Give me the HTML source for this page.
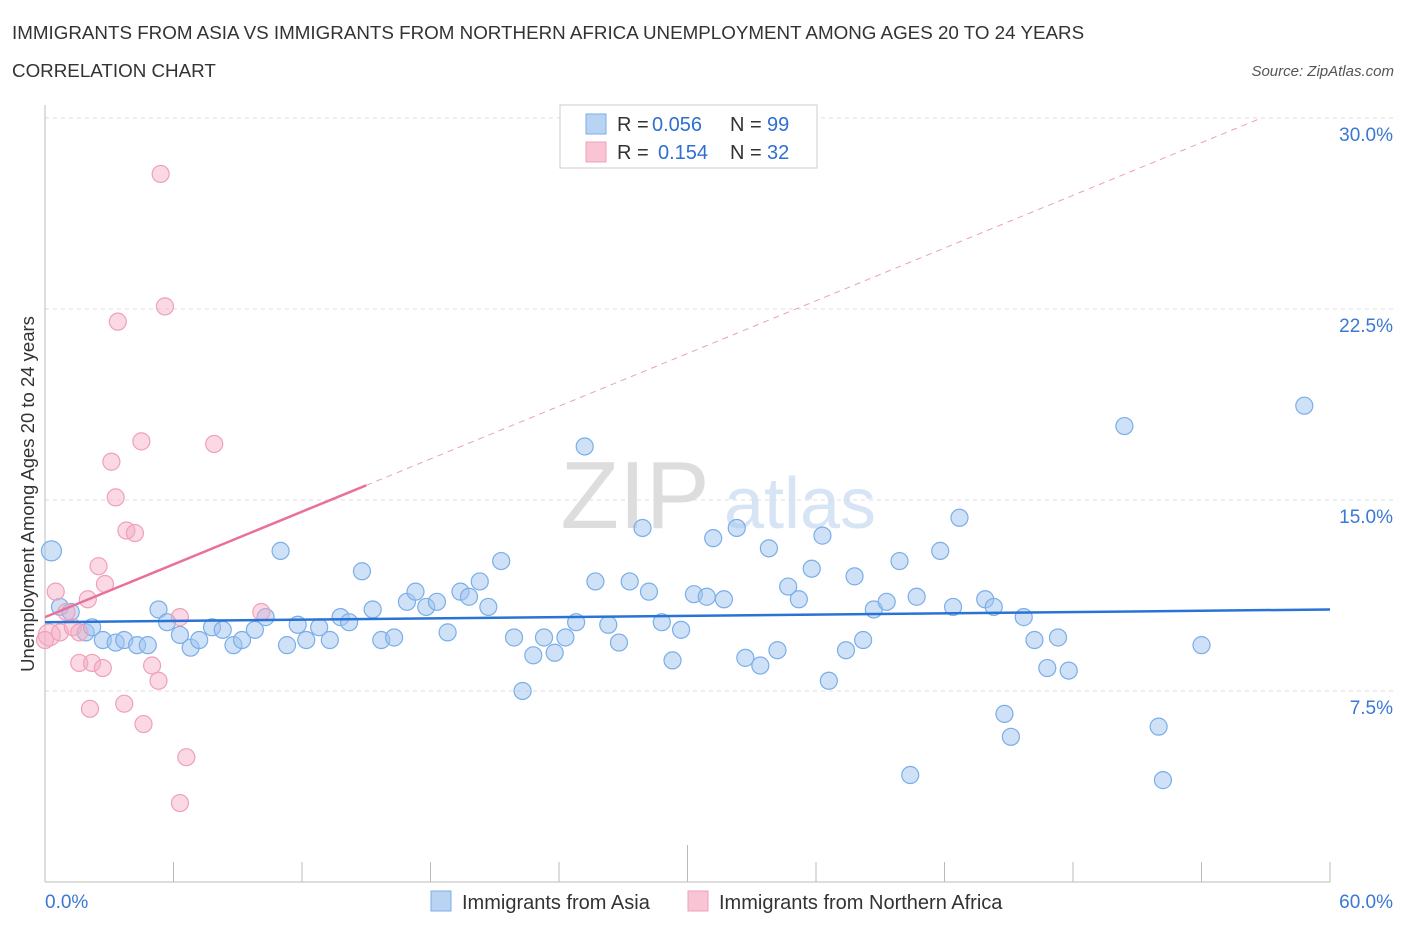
<!DOCTYPE html>
<html><head><meta charset="utf-8"><style>
body{margin:0;background:#fff;font-family:"Liberation Sans",sans-serif;}
svg text{font-family:"Liberation Sans",sans-serif;}
</style></head><body>
<svg id="chart" width="1406" height="930" xmlns="http://www.w3.org/2000/svg">
<text x="12" y="39" font-size="18.8" fill="#333">IMMIGRANTS FROM ASIA VS IMMIGRANTS FROM NORTHERN AFRICA UNEMPLOYMENT AMONG AGES 20 TO 24 YEARS</text>
<text x="12" y="77" font-size="18.8" fill="#333">CORRELATION CHART</text>
<text x="1394" y="76" font-size="15" fill="#555" text-anchor="end" font-style="italic">Source: ZipAtlas.com</text>
<text x="635" y="528" font-size="96" fill="#ddd" font-family="Liberation Serif" text-anchor="middle">ZIP</text>
<text x="800" y="528" font-size="72" fill="#d6e4f5" text-anchor="middle">atlas</text>
<g id="grid"></g>
<g id="axes"></g>
<g id="pts"></g>
<g id="lines"></g>
<text x="34" y="494" font-size="18.5" fill="#333" text-anchor="middle" transform="rotate(-90 34 494)">Unemployment Among Ages 20 to 24 years</text>
<text x="45" y="908" font-size="19" fill="#3a78d4">0.0%</text>
<text x="1393" y="908" font-size="19" fill="#3a78d4" text-anchor="end">60.0%</text>
<g>
<rect x="560" y="105" width="257" height="63" fill="#fff" stroke="#ccc"/>
<rect x="586" y="114" width="20" height="20" fill="#b9d3f3" stroke="#7aaee8"/>
<rect x="586" y="142" width="20" height="20" fill="#f9c5d5" stroke="#f0a0b8"/>
<text x="617" y="131" font-size="20" fill="#333">R =</text>
<text x="652" y="131" font-size="20" fill="#2f6fd0">0.056</text>
<text x="730" y="131" font-size="20" fill="#333">N =</text>
<text x="767" y="131" font-size="20" fill="#2f6fd0">99</text>
<text x="617" y="159" font-size="20" fill="#333">R =</text>
<text x="658" y="159" font-size="20" fill="#2f6fd0">0.154</text>
<text x="730" y="159" font-size="20" fill="#333">N =</text>
<text x="767" y="159" font-size="20" fill="#2f6fd0">32</text>
</g>
<g>
<rect x="431" y="891" width="20" height="20" fill="#b9d3f3" stroke="#7aaee8"/>
<text x="462" y="909" font-size="20" fill="#333">Immigrants from Asia</text>
<rect x="688" y="891" width="20" height="20" fill="#f9c5d5" stroke="#f0a0b8"/>
<text x="719" y="909" font-size="20" fill="#333">Immigrants from Northern Africa</text>
</g>
</svg>
<script>
const yTicks=[7.5,15.0,22.5,30.0];
const xTickVals=[0,6,12,18,24,30,36,42,48,54,60];
const asiaX=[0.3,0.7,1.2,1.9,2.2,2.7,3.3,3.7,4.3,4.8,5.3,5.7,6.3,6.8,7.2,7.8,8.3,8.8,9.2,9.8,10.3,11.0,11.3,11.8,12.2,12.8,13.3,13.8,14.2,14.8,15.3,15.7,16.3,16.9,17.3,17.8,18.3,18.8,19.4,19.8,20.3,20.7,21.3,21.9,22.3,22.8,23.3,23.8,24.3,24.8,25.2,25.7,26.3,26.8,27.3,27.9,28.2,28.8,29.3,29.7,30.3,30.9,31.2,31.7,32.3,32.7,33.4,33.8,34.2,34.7,35.2,35.8,36.3,36.6,37.4,37.8,38.2,38.7,39.3,39.9,40.4,40.7,41.8,42.4,42.7,43.9,44.3,44.8,45.1,45.7,46.2,46.8,47.3,47.8,50.4,52.0,52.2,54.0,58.8];
const asiaY=[13.0,10.8,10.6,9.8,10.0,9.5,9.4,9.5,9.3,9.3,10.7,10.2,9.7,9.2,9.5,10.0,9.9,9.3,9.5,9.9,10.4,13.0,9.3,10.1,9.5,10.0,9.5,10.4,10.2,12.2,10.7,9.5,9.6,11.0,11.4,10.8,11.0,9.8,11.4,11.2,11.8,10.8,12.6,9.6,7.5,8.9,9.6,9.0,9.6,10.2,17.1,11.8,10.1,9.4,11.8,13.9,11.4,10.2,8.7,9.9,11.3,11.2,13.5,11.1,13.9,8.8,8.5,13.1,9.1,11.6,11.1,12.3,13.6,7.9,9.1,12.0,9.5,10.7,11.0,12.6,4.2,11.2,13.0,10.8,14.3,11.1,10.8,6.6,5.7,10.4,9.5,8.4,9.6,8.3,17.9,6.1,4.0,9.3,18.7];
const nafX=[0.2,0.5,0.7,1.0,1.3,1.6,1.6,2.0,2.1,2.2,2.5,2.7,2.8,3.1,3.3,3.4,3.7,3.8,4.2,4.5,4.6,5.0,5.3,5.4,5.6,6.3,6.3,6.6,7.9,10.1,0.0];
const nafY=[9.7,11.4,9.8,10.6,10.0,9.8,8.6,11.1,6.8,8.6,12.4,8.4,11.7,16.5,15.1,22.0,7.0,13.8,13.7,17.3,6.2,8.5,7.9,27.8,22.6,10.4,3.1,4.9,17.2,10.6,9.5];
const asiaFit=[10.2,10.7];
const nafFit=[10.4,0.345];
const X=v=>45+v/60*1285;
const Y=v=>882-v*25.47;
const NS="http://www.w3.org/2000/svg";
function mk(tag,attrs,parent){const e=document.createElementNS(NS,tag);for(const k in attrs)e.setAttribute(k,attrs[k]);document.getElementById(parent).appendChild(e);return e;}
yTicks.forEach(t=>{
 const l=mk('line',{x1:45,x2:1393,y1:Y(t),y2:Y(t),stroke:'#ddd','stroke-dasharray':'4,4'},'grid');
 
 
 const tx=mk('text',{x:1393,y:Y(t)+23,'font-size':19,fill:'#3a78d4','text-anchor':'end'},'grid');
 tx.textContent=t.toFixed(1)+'%';
 
 
});
const ax=mk('line',{x1:45,x2:45,y1:105,y2:882,stroke:'#bbb'},'axes');


const bx=mk('line',{x1:45,x2:1330,y1:882,y2:882,stroke:'#bbb'},'axes');


xTickVals.forEach((t,i)=>{
 const l=mk('line',{x1:X(t),x2:X(t),y1:(i==5?845:862),y2:882,stroke:'#bbb'},'axes');
 
 
});
asiaX.forEach((x,i)=>{
 const c=mk('circle',{cx:X(x),cy:Y(asiaY[i]),r:(i==0?10:8.5),fill:'rgba(160,196,240,0.5)',stroke:'#7aaee8','stroke-width':1.2},'pts');
 
 
});
nafX.forEach((x,i)=>{
 const c=mk('circle',{cx:X(x),cy:Y(nafY[i]),r:(i==0?11:8.5),fill:'rgba(245,170,195,0.45)',stroke:'#f0a0b8','stroke-width':1.2},'pts');
 
 
});
const bl=mk('line',{x1:X(0),y1:Y(asiaFit[0]),x2:X(60),y2:Y(asiaFit[1]),stroke:'#2a73d6','stroke-width':2.5},'lines');


const xEnd=(30-nafFit[0])/nafFit[1];
const pd=mk('line',{x1:X(15),y1:Y(nafFit[0]+15*nafFit[1]),x2:X(xEnd),y2:Y(30),stroke:'#eba0b8','stroke-width':1,'stroke-dasharray':'6,5'},'lines');


const pl=mk('line',{x1:X(0),y1:Y(nafFit[0]),x2:X(15),y2:Y(nafFit[0]+15*nafFit[1]),stroke:'#e8709a','stroke-width':2.5},'lines');


</script>
</body></html>
